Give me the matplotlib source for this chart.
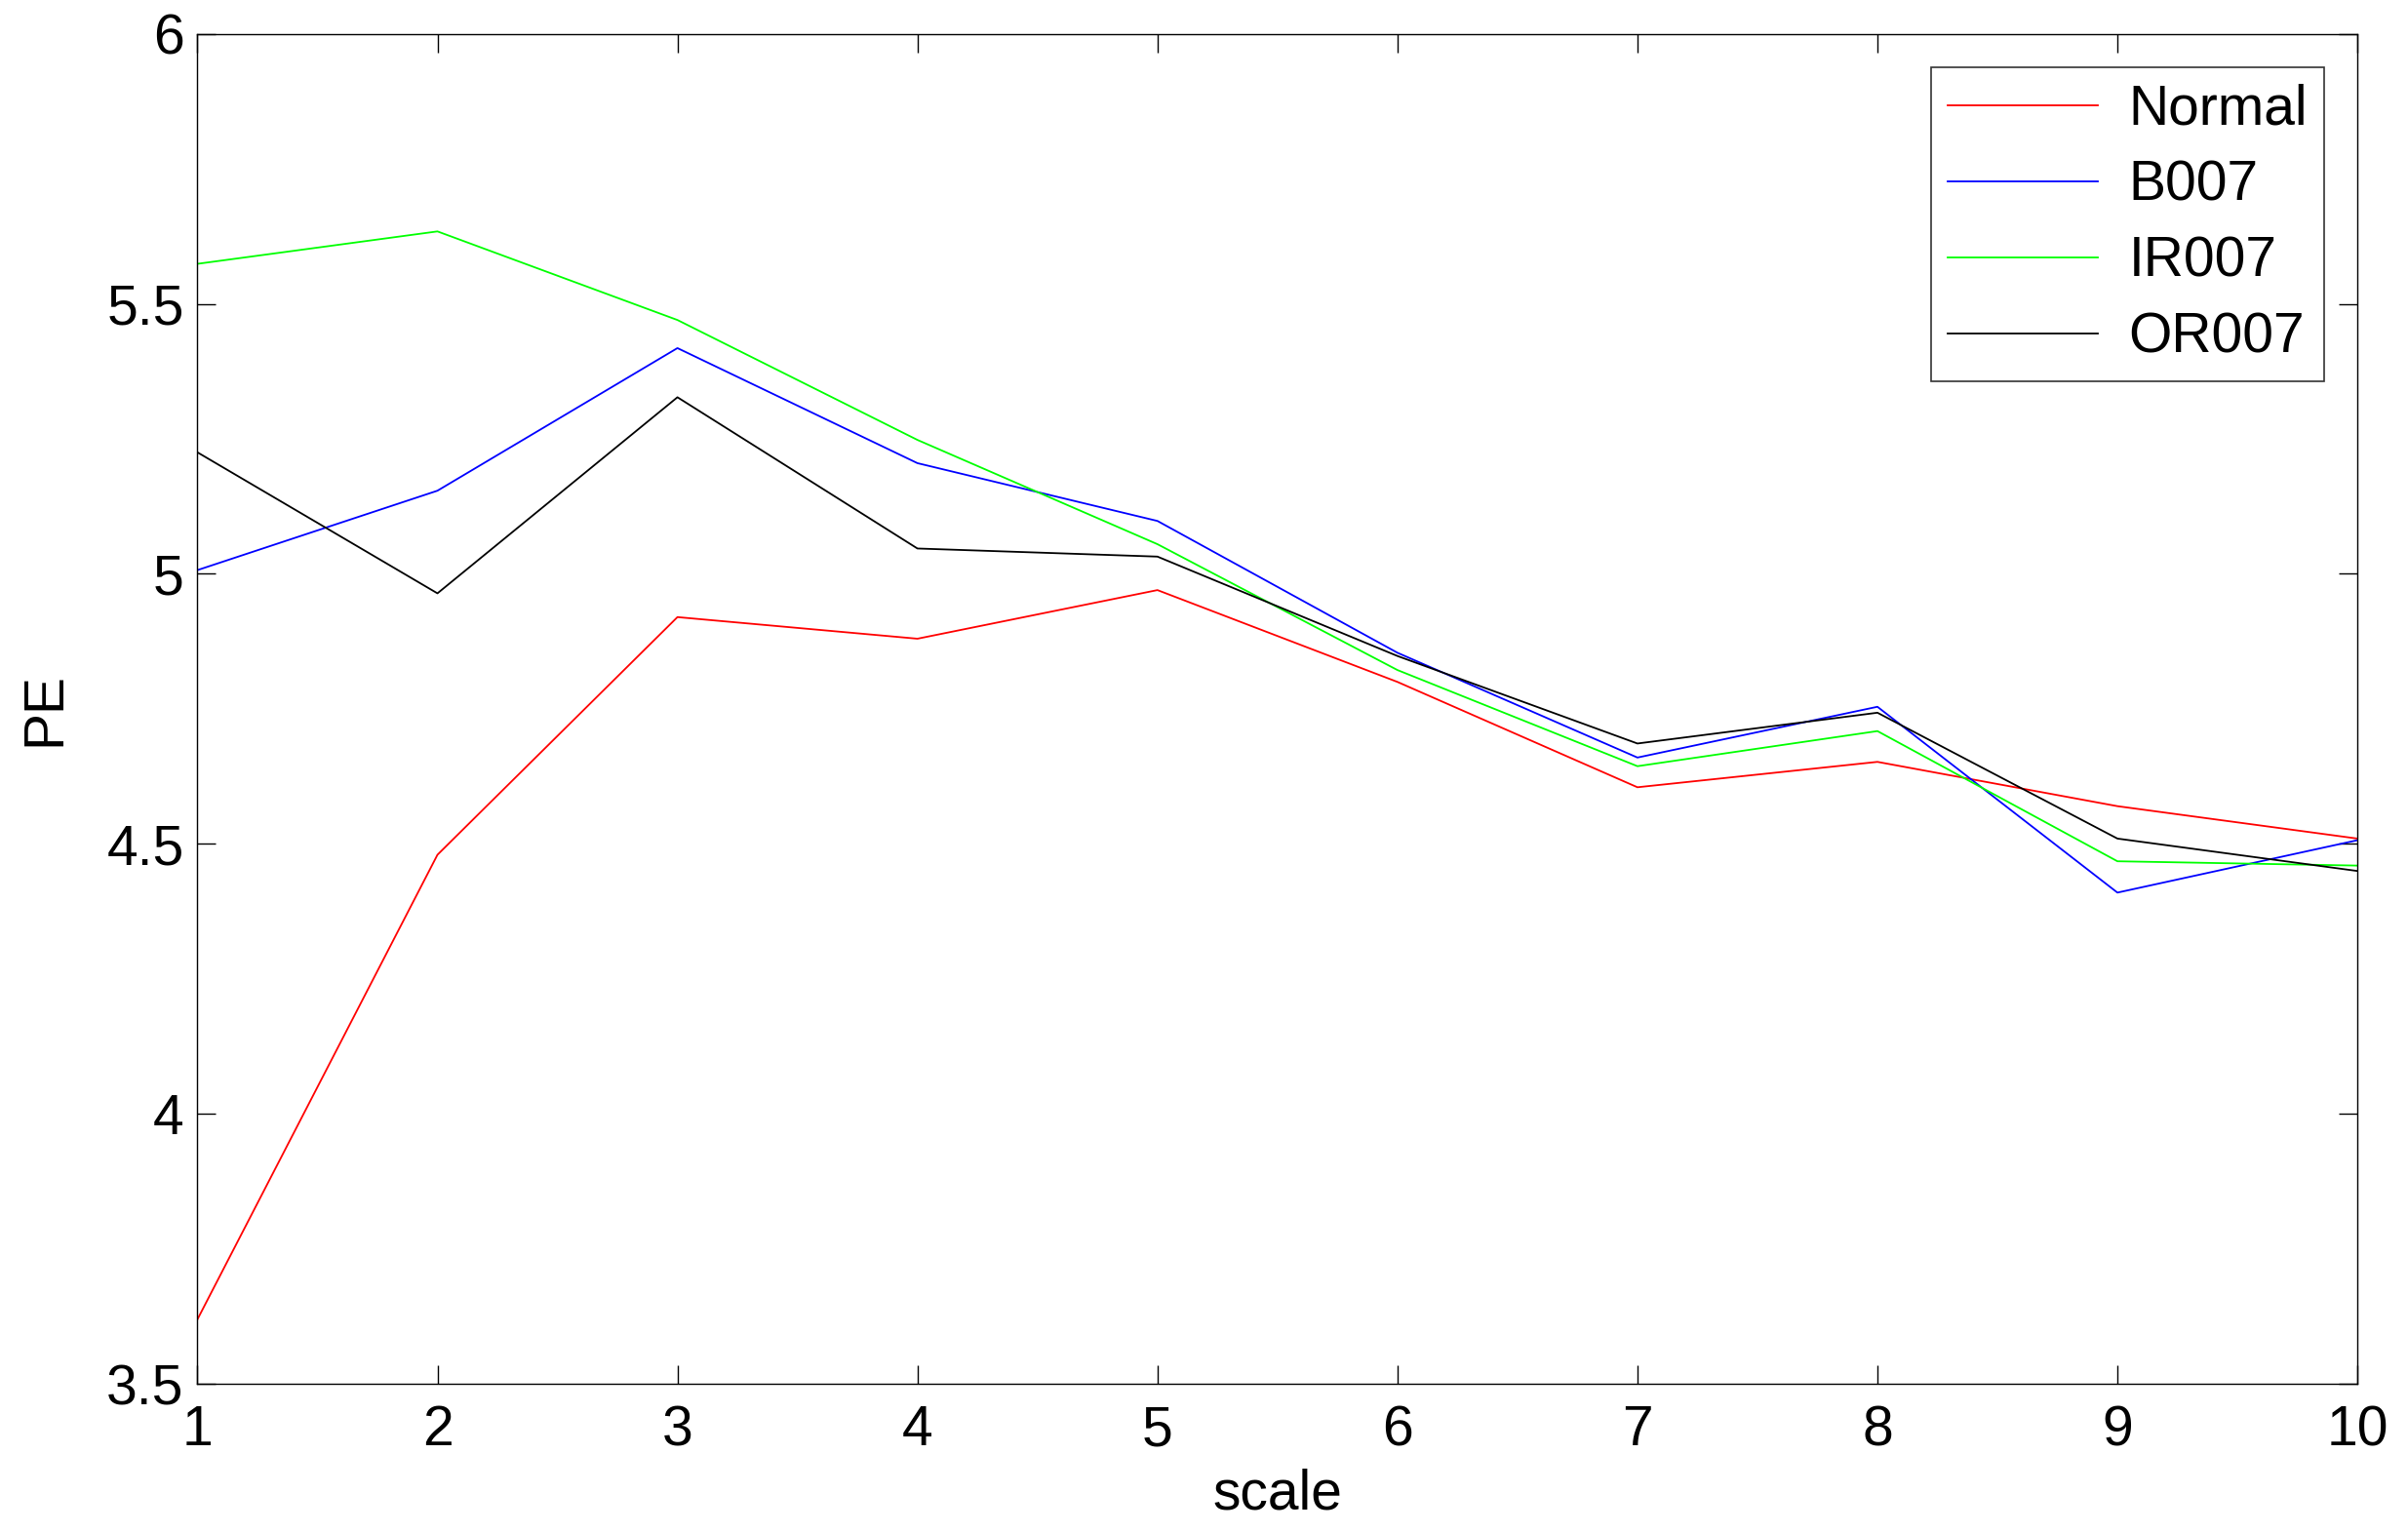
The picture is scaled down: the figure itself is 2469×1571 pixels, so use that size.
import matplotlib
matplotlib.use('Agg')
from matplotlib import pyplot as plt

plt.rcParams['font.family'] = ['Liberation Sans', 'DejaVu Sans']

scale = [1, 2, 3, 4, 5, 6, 7, 8, 9, 10]
normal = [3.62, 4.48, 4.92, 4.88, 4.97, 4.80, 4.605, 4.652, 4.57, 4.51]
b007 = [5.007, 5.154, 5.418, 5.205, 5.098, 4.854, 4.66, 4.754, 4.41, 4.507]
ir007 = [5.574, 5.634, 5.47, 5.248, 5.055, 4.822, 4.644, 4.709, 4.468, 4.46]
or007 = [5.225, 4.964, 5.327, 5.047, 5.032, 4.848, 4.686, 4.743, 4.51, 4.45]

fig = plt.figure(figsize=(24.69, 15.71), dpi=100)
ax = fig.add_axes([0.082, 0.0965, 0.897, 0.8815])

ax.plot(scale, normal, color='#ff0000', lw=1.3, label='Normal')
ax.plot(scale, b007, color='#0000ff', lw=1.3, label='B007')
ax.plot(scale, ir007, color='#00ff00', lw=1.3, label='IR007')
ax.plot(scale, or007, color='#000000', lw=1.3, label='OR007')

ax.set_xlim(1, 10)
ax.set_ylim(3.5, 6)
ax.set_xticks(scale)
ax.set_yticks([3.5, 4, 4.5, 5, 5.5, 6])
ax.set_yticklabels(['3.5', '4', '4.5', '5', '5.5', '6'])
ax.tick_params(direction='in', length=14, width=1, top=True, right=True,
               labelsize=41, pad=10)
ax.tick_params(axis='x', pad=15)
for s in ax.spines.values():
    s.set_linewidth(1)

ax.set_xlabel('scale', fontsize=41, labelpad=8)
ax.set_ylabel('PE', fontsize=41, labelpad=26)

leg = ax.legend(loc='upper right', fontsize=41, frameon=True, fancybox=False,
                handlelength=2.7, borderaxespad=0.6, labelspacing=0.42,
                borderpad=0.3, handletextpad=0.55)
leg.get_frame().set_edgecolor('black')
leg.get_frame().set_linewidth(1.2)

plt.savefig('out.png', dpi=100)
